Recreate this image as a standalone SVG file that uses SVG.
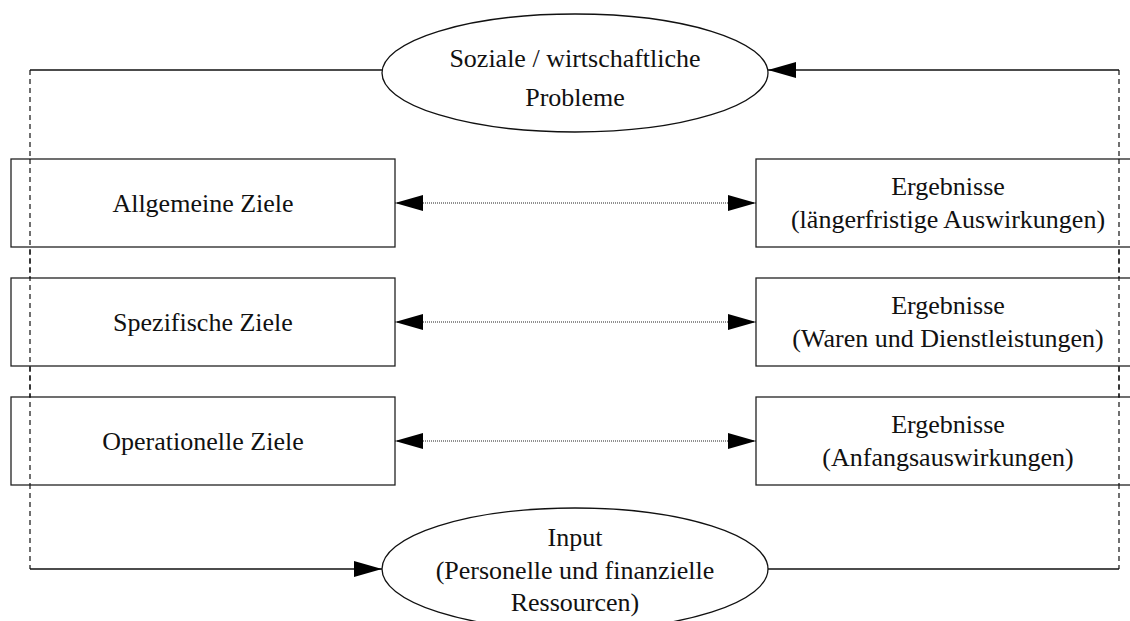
<svg xmlns="http://www.w3.org/2000/svg" width="1130" height="621" viewBox="0 0 1130 621">
  <defs>
    <style>
      .box { fill: #fff; stroke: #222; stroke-width: 1.3; }
      .oval { fill: #fff; stroke: #111; stroke-width: 1.3; }
      .lbl { font-family: "Liberation Serif", "Times New Roman", serif; font-size: 26px; fill: #111; text-anchor: middle; }
      .solid { fill: none; stroke: #111; stroke-width: 1.3; }
      .dash { fill: none; stroke: #111; stroke-width: 1.2; stroke-dasharray: 5 4; }
      .dot { fill: none; stroke: #222; stroke-width: 1.2; stroke-dasharray: 1 1; }
    </style>
    <marker id="head" viewBox="0 0 28 16" refX="28" refY="8" markerWidth="28" markerHeight="16" markerUnits="userSpaceOnUse" orient="auto-start-reverse">
      <path d="M0,0 L28,8 L0,16 Z" fill="#000"/>
    </marker>
  </defs>
  <rect width="1130" height="621" fill="#fff"/>

  <!-- feedback loop lines -->
  <g id="connectors">
    <path class="dash" d="M30,70 V569"/>
    <path class="dash" d="M1119,70 V569"/>
    <path class="solid" d="M30,70 H382"/>
    <path class="solid" d="M1119,70 H768" marker-end="url(#head)"/>
    <path class="solid" d="M30,569 H382" marker-end="url(#head)"/>
    <path class="solid" d="M768,569 H1119"/>
    <path class="dot" d="M395,203 H756" marker-start="url(#head)" marker-end="url(#head)"/>
    <path class="dot" d="M395,322 H756" marker-start="url(#head)" marker-end="url(#head)"/>
    <path class="dot" d="M395,441 H756" marker-start="url(#head)" marker-end="url(#head)"/>
  </g>

  <g id="problems">
    <ellipse class="oval" cx="575" cy="73" rx="193" ry="59"/>
    <text class="lbl" x="575" y="67">Soziale / wirtschaftliche</text>
    <text class="lbl" x="575" y="106">Probleme</text>
  </g>

  <g id="goals-general">
    <rect class="box" x="11" y="159" width="384" height="88"/>
    <text class="lbl" x="203" y="212">Allgemeine Ziele</text>
  </g>
  <g id="goals-specific">
    <rect class="box" x="11" y="278" width="384" height="88"/>
    <text class="lbl" x="203" y="331">Spezifische Ziele</text>
  </g>
  <g id="goals-operational">
    <rect class="box" x="11" y="397" width="384" height="88"/>
    <text class="lbl" x="203" y="450">Operationelle Ziele</text>
  </g>

  <g id="results-long">
    <rect class="box" x="756" y="159" width="384" height="88"/>
    <text class="lbl" x="948" y="195">Ergebnisse</text>
    <text class="lbl" x="948" y="228">(längerfristige Auswirkungen)</text>
  </g>
  <g id="results-goods">
    <rect class="box" x="756" y="278" width="384" height="88"/>
    <text class="lbl" x="948" y="314">Ergebnisse</text>
    <text class="lbl" x="948" y="347">(Waren und Dienstleistungen)</text>
  </g>
  <g id="results-initial">
    <rect class="box" x="756" y="397" width="384" height="88"/>
    <text class="lbl" x="948" y="433">Ergebnisse</text>
    <text class="lbl" x="948" y="466">(Anfangsauswirkungen)</text>
  </g>

  <!-- dashed verticals pass over the boxes -->
  <g id="loop-overlay">
    <path class="dash" d="M30,159 V485"/>
    <path class="dash" d="M1119,159 V485"/>
  </g>

  <g id="input">
    <ellipse class="oval" cx="575" cy="569" rx="193" ry="61"/>
    <text class="lbl" x="575" y="546">Input</text>
    <text class="lbl" x="575" y="579">(Personelle und finanzielle</text>
    <text class="lbl" x="575" y="611">Ressourcen)</text>
  </g>
</svg>
